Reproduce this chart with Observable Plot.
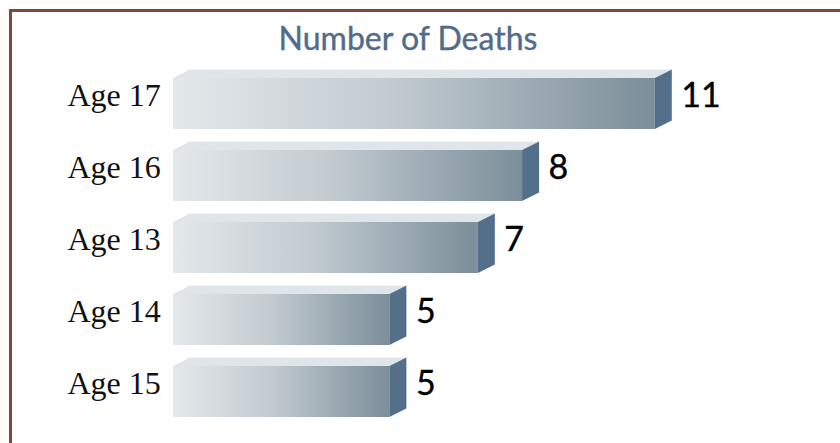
<!DOCTYPE html>
<html>
<head>
<meta charset="utf-8">
<script src="https://cdn.jsdelivr.net/npm/d3@7"></script>
<script src="https://cdn.jsdelivr.net/npm/@observablehq/plot@0.6"></script>
<style>
  html, body { margin: 0; padding: 0; background: #ffffff; overflow: hidden; width: 840px; height: 443px; }
  #wrap { position: relative; width: 840px; height: 443px; }
  #border { position: absolute; left: 9px; top: 9px; width: 900px; height: 500px;
            border-top: 3px solid #7a4a31; border-left: 3px solid #7a4a31; box-sizing: border-box; }
  #chart { position: absolute; left: 0; top: 0; }
</style>
</head>
<body>
<div id="wrap"><div id="border"></div><div id="chart"></div></div>
<script>
const title = "Number of Deaths";
const ages = ["Age 17", "Age 16", "Age 13", "Age 14", "Age 15"];
const deaths = [11, 8, 7, 5, 5];

const data = ages.map((age, i) => ({age, deaths: deaths[i]}));
const NS = "http://www.w3.org/2000/svg";
const DX = 17, DY = 8.5;

function el(name, attrs) {
  const e = document.createElementNS(NS, name);
  for (const k in attrs) e.setAttribute(k, attrs[k]);
  return e;
}

function bars3d(index, scales, values, dimensions, context, next) {
  const g = next(index, scales, values, dimensions, context);
  const defs = el("defs", {});
  const grad = el("linearGradient", {id: "barGrad", x1: "0", y1: "0", x2: "1", y2: "0"});
  [["0", "#e3e8eb"], ["0.45", "#c3cbd1"], ["1", "#7b8e99"]].forEach(([o, c]) => {
    grad.appendChild(el("stop", {offset: o, "stop-color": c}));
  });
  defs.appendChild(grad);
  g.insertBefore(defs, g.firstChild);
  const rects = Array.from(g.querySelectorAll("rect"));
  for (const r of rects) {
    const x = +r.getAttribute("x"), y = +r.getAttribute("y");
    const w = +r.getAttribute("width"), h = +r.getAttribute("height");
    const x2 = x + w, y2 = y + h;
    g.appendChild(el("polygon", {
      points: `${x},${y} ${x + DX},${y - DY} ${x2 + DX},${y - DY} ${x2},${y}`,
      fill: "#dfe5e8"
    }));
    g.appendChild(el("polygon", {
      points: `${x2},${y} ${x2 + DX},${y - DY} ${x2 + DX},${y2 - DY} ${x2},${y2}`,
      fill: "#546f8a"
    }));
  }
  return g;
}

const chart = Plot.plot({
  width: 840,
  height: 443,
  margin: 0,
  style: {background: "transparent", overflow: "visible"},
  x: {domain: [0, 11], range: [168.2, 654.8], axis: null},
  y: {domain: ages, range: [77, 417], paddingInner: 0.294, paddingOuter: 0, axis: null},
  marks: [
    Plot.barX(data, {x: "deaths", y: "age", fill: "url(#barGrad)", insetLeft: 4.8, render: bars3d}),
    Plot.text(data, {x: 0, y: "age", text: "age", textAnchor: "end", dx: -8, dy: -8,
      fontFamily: "'Liberation Serif', 'Times New Roman', serif", fontSize: 32, fill: "#111"}),
    Plot.text(data, {x: "deaths", y: "age", text: d => String(d.deaths), textAnchor: "start", dx: 26, dy: -8,
      fontFamily: "Lato, 'Noto Sans', sans-serif", fontSize: 34, fill: "#000", stroke: "#000", strokeWidth: 0.35}),
    Plot.text([title], {frameAnchor: "top", text: d => d, dx: -12.5, dy: 39,
      lineAnchor: "middle", fontFamily: "Lato, 'Noto Sans', sans-serif", fontSize: 32, fill: "#506c89",
      stroke: "#506c89", strokeWidth: 0.4})
  ]
});
document.getElementById("chart").appendChild(chart);
</script>
</body>
</html>
